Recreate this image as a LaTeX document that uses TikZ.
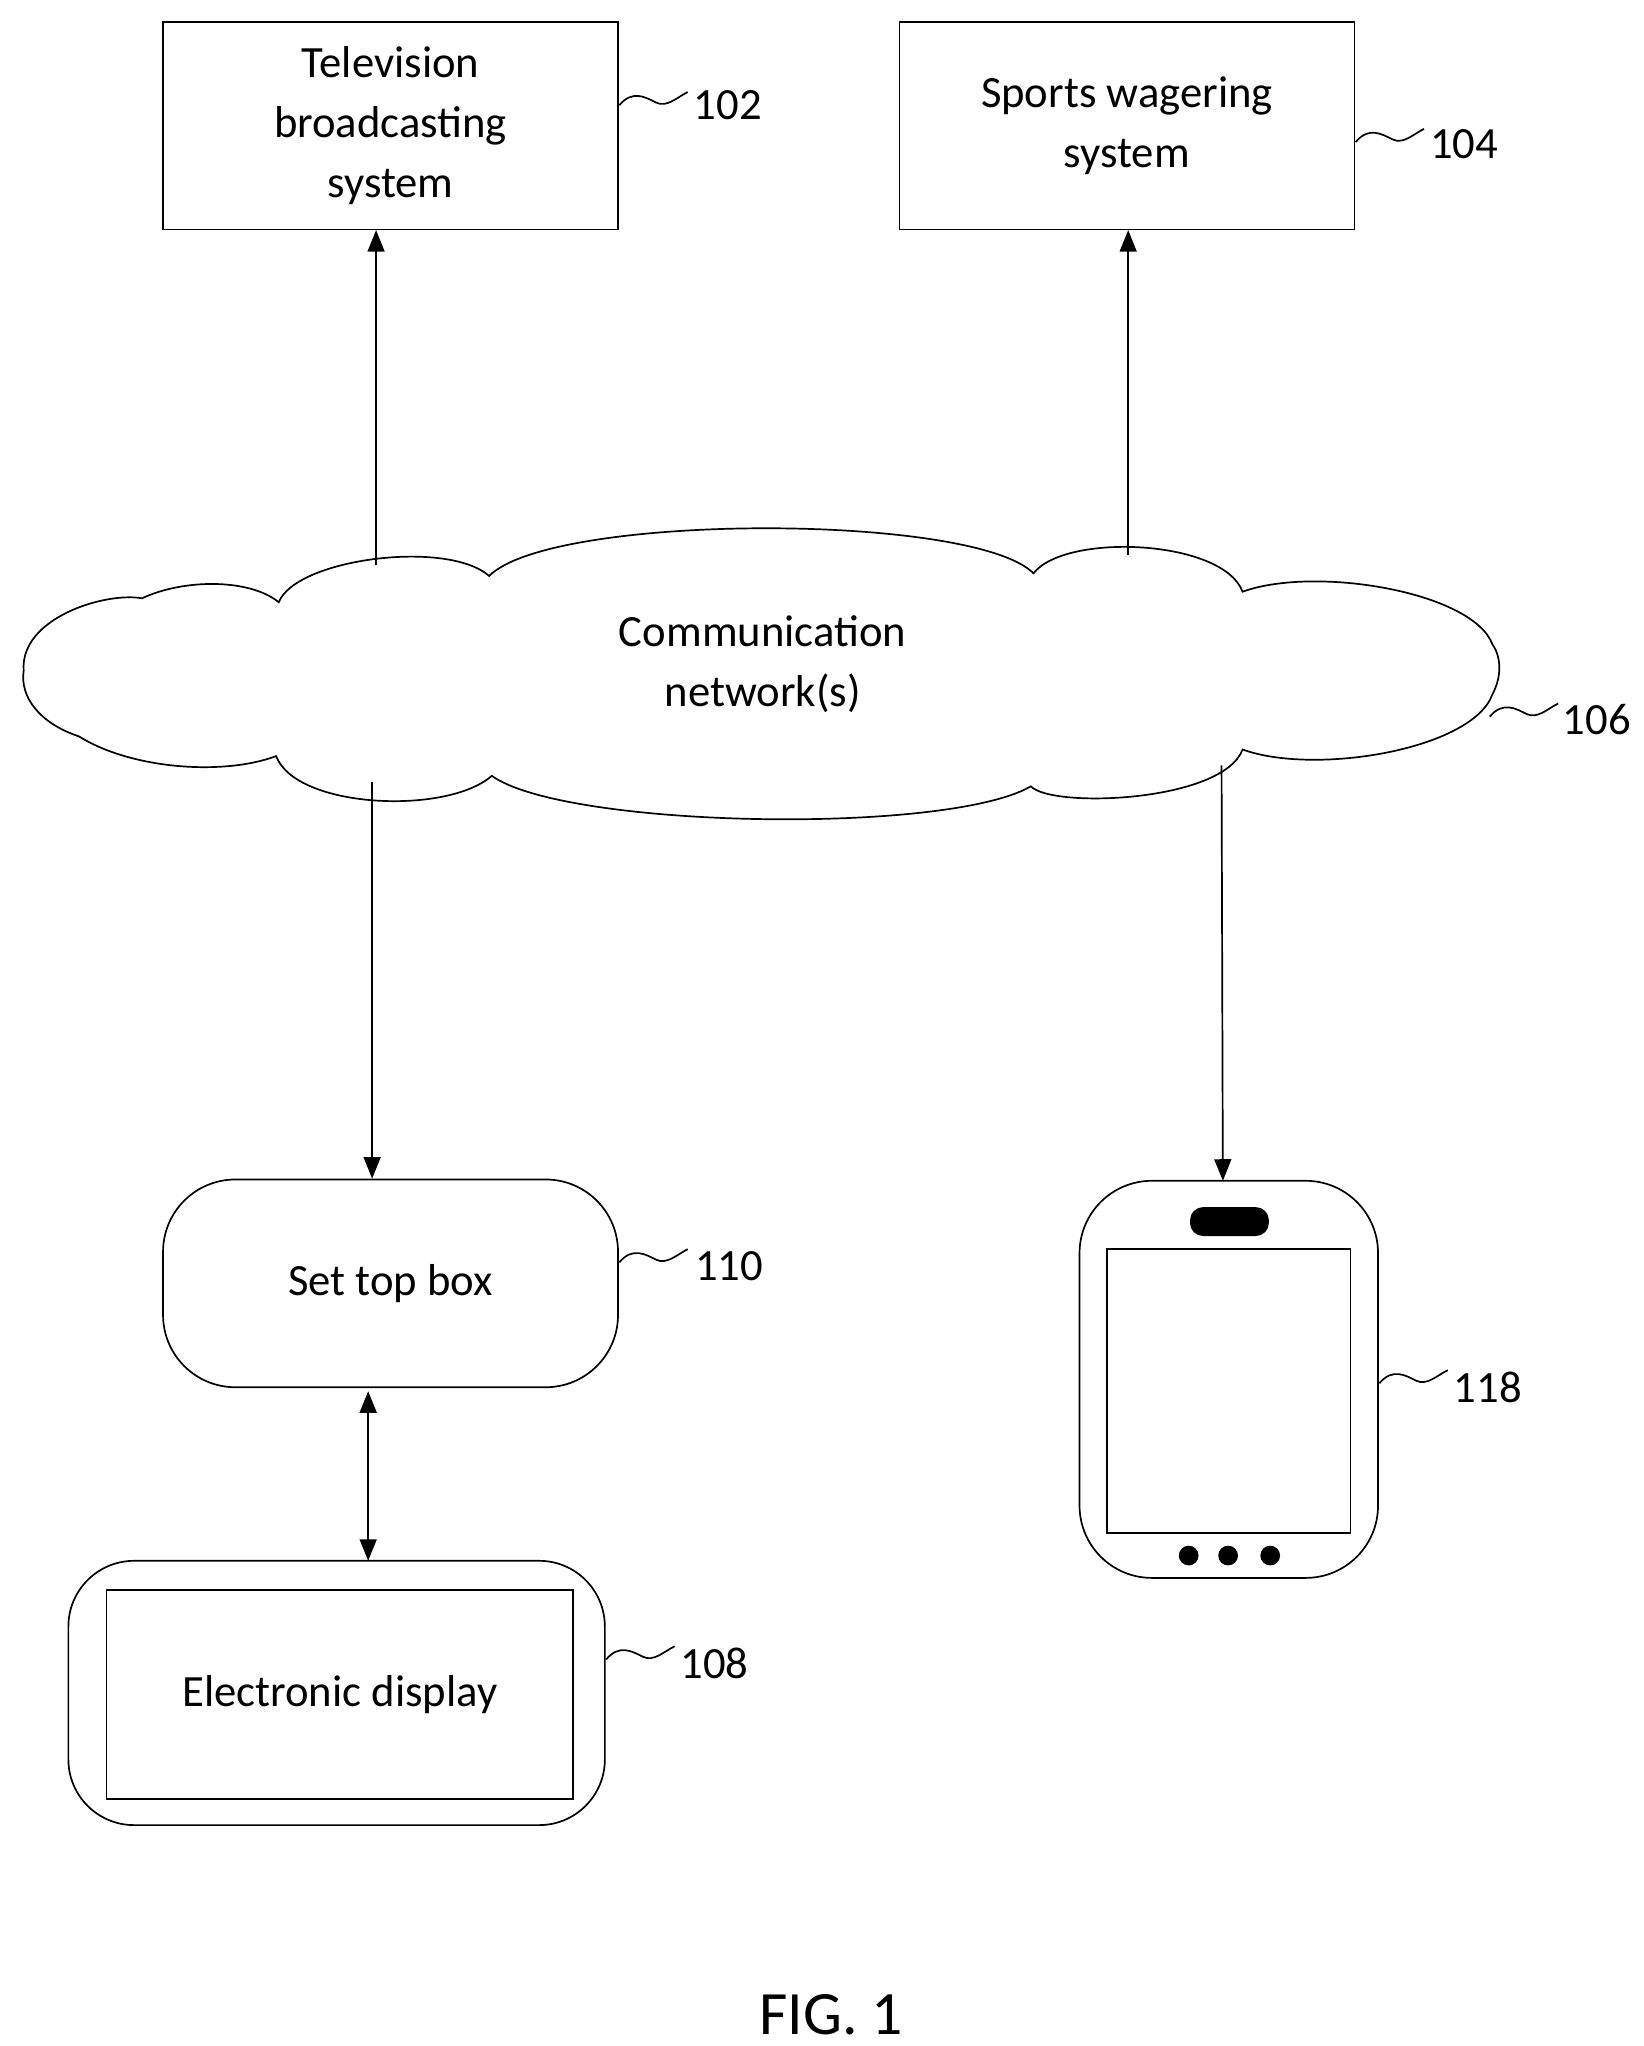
\documentclass[tikz,border=0pt]{standalone}
\usepackage{fontspec}
\setmainfont{Carlito}
\usetikzlibrary{arrows.meta}
\begin{document}
\begin{tikzpicture}[x=0.03cm,y=-0.03cm,line width=1.1pt,
  box/.style={draw,minimum width=346*0.03cm,minimum height=158*0.03cm,align=center,inner sep=0pt},
  txt/.style={font=\fontsize{29}{39}\selectfont,align=center},
  lbl/.style={font=\fontsize{29}{39}\selectfont,anchor=west,inner sep=0pt},
  arr/.style={-{Triangle[length=14pt,width=11pt]}},
  darr/.style={{Triangle[length=14pt,width=11pt]}-{Triangle[length=14pt,width=11pt]}}]
\useasboundingbox (0,0) rectangle (1250,1556);
\newcommand\squig[2]{\draw (#1,#2) .. controls (#1+10,#2-12) and (#1+20,#2-6) .. (#1+28,#2-2) .. controls (#1+36,#2+2) and (#1+44,#2-6) .. (#1+52,#2-10);}
% boxes
\node[box,txt] (b102) at (297,95.5) {Television\\broadcasting\\system};
\node[box,txt] (b104) at (857,95.5) {Sports wagering\\system};
\squig{471}{80}\node[lbl] (l102) at (527,80) {102};
\squig{1031}{108}\node[lbl] (l104) at (1087,110) {104};
% cloud
\draw (18,510) .. controls (15,470) and (80,450) .. (108,455)
  .. controls (140,440) and (190,440) .. (212,458)
  .. controls (225,425) and (340,410) .. (372,438)
  .. controls (420,390) and (740,390) .. (786,436)
  .. controls (810,405) and (930,410) .. (945,450)
  .. controls (1000,430) and (1120,450) .. (1135,490)
  .. controls (1142,500) and (1142,515) .. (1135,528)
  .. controls (1120,570) and (1000,590) .. (945,570)
  .. controls (930,610) and (800,615) .. (784,598)
  .. controls (720,635) and (430,630) .. (374,590)
  .. controls (340,620) and (225,615) .. (210,575)
  .. controls (170,590) and (100,585) .. (60,560)
  .. controls (30,550) and (15,530) .. (18,510) -- cycle;
\node[txt] (cloud) at (580,505) {Communication\\network(s)};
\coordinate (c1) at (286,430);
\coordinate (c2) at (858,422);
\coordinate (c3) at (283,595);
\coordinate (c4) at (929,582);
\squig{1133}{545}\node[lbl] (l106) at (1188,547) {106};
% set top box
\node[draw,rounded corners=55*0.03cm,minimum width=346*0.03cm,minimum height=158*0.03cm,txt] (stb) at (297,976) {Set top box};
\squig{471}{960}\node[lbl] (l110) at (528,963) {110};
% display
\node[draw,rounded corners=50*0.03cm,minimum width=408*0.03cm,minimum height=201*0.03cm] (disp) at (256,1287.5) {};
\node[draw,minimum width=355*0.03cm,minimum height=159*0.03cm,txt] (scr) at (258.5,1288.5) {Electronic display};
\squig{461}{1262}\node[lbl] (l108) at (517,1265) {108};
% phone
\node[draw,rounded corners=55*0.03cm,minimum width=227*0.03cm,minimum height=302*0.03cm] (phone) at (934.5,1049) {};
\node[draw,minimum width=185*0.03cm,minimum height=216*0.03cm] (pscr) at (934.5,1058) {};
\fill[rounded corners=10*0.03cm] (905,918) rectangle (965,940);
\foreach \x in {904,934,966}{\fill (\x,1183) circle (7.5*0.03cm);}
\squig{1049}{1052}\node[lbl] (l118) at (1105,1055) {118};
% arrows
\draw[arr] (c1) -- (286,175);
\draw[arr] (c2) -- (858,175);
\draw[arr] (c3) -- (stb.north -| c3);
\draw[arr] (c4) -- (930,898);
\draw[darr] (280,1058) -- (280,1187);
\node[font=\fontsize{40}{48}\selectfont] (fig) at (632,1532) {FIG. 1};
\end{tikzpicture}
\end{document}
